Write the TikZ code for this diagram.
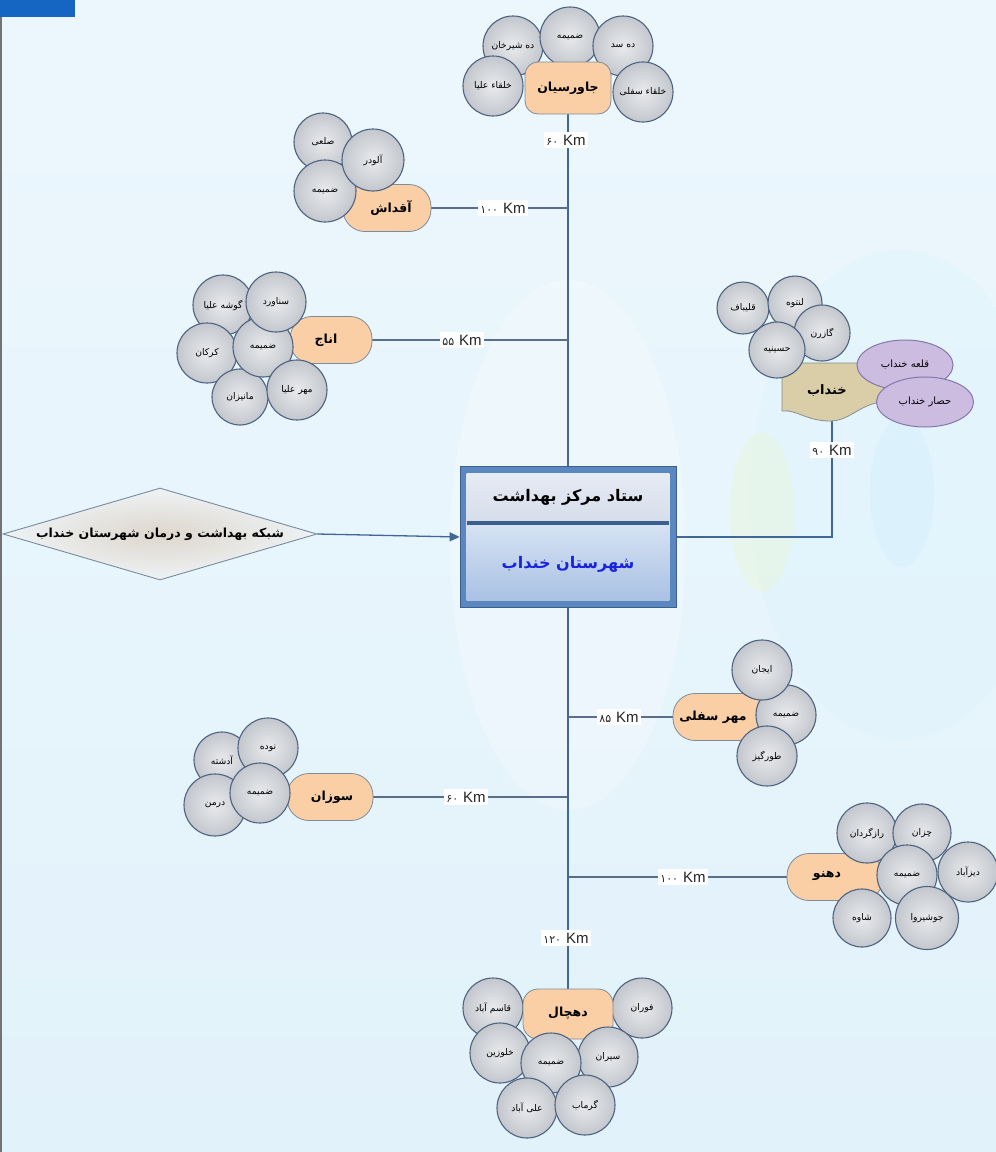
\documentclass[tikz,border=0pt]{standalone}
\usepackage{fontspec}
\newfontfamily\arabicfont[Script=Arabic]{DejaVu Sans}
\newfontfamily\kmfont{Liberation Sans}
\TeXXeTstate=1
\usetikzlibrary{shapes.geometric,arrows.meta}
\newcommand{\pers}[1]{{\arabicfont\beginR #1\endR}}
\newcommand{\kmlab}[1]{{\arabicfont\fontsize{11}{12}\selectfont #1}\,\,Km}
\pgfdeclarelayer{back}
\pgfdeclarelayer{lines}
\pgfsetlayers{back,lines,main}
\definecolor{bgA}{HTML}{ECF7FD}
\definecolor{bgB}{HTML}{E2F2FA}
\definecolor{peach}{HTML}{FBCFA6}
\definecolor{boxedge}{HTML}{7D8B9C}
\definecolor{circEdge}{HTML}{4D6382}
\definecolor{circIn}{HTML}{E9EAEC}
\definecolor{circOut}{HTML}{C3C7CD}
\definecolor{trunkc}{HTML}{41669A}
\definecolor{branchc}{HTML}{586E8C}
\definecolor{frameblue}{HTML}{5A87C0}
\definecolor{framedark}{HTML}{3C5F8E}
\definecolor{tanfill}{HTML}{D9CEA8}
\definecolor{lilac}{HTML}{CBBCE0}
\definecolor{lilacEdge}{HTML}{8676AE}
\definecolor{cornerblue}{HTML}{1466C2}
\definecolor{titleblue}{HTML}{1A22E0}
\definecolor{ctopA}{HTML}{E6EBF4}
\definecolor{ctopB}{HTML}{CCD6E6}
\definecolor{cbotA}{HTML}{D6E3F4}
\definecolor{cbotB}{HTML}{A9C1E3}
\definecolor{diaIn}{HTML}{DDD6CC}
\definecolor{diaOut}{HTML}{EEF3F6}
\definecolor{diaEdge}{HTML}{7A8BA0}
\tikzset{
  vill/.style={circle, minimum size=60pt, inner sep=0pt, draw=circEdge, line width=1.1pt,
    inner color=circIn, outer color=circOut, font=\fontsize{9.2}{10}\selectfont, text=black},
  capbox/.style={rounded corners=22pt, draw=boxedge, fill=peach, line width=0.8pt,
    minimum height=47pt, inner sep=2pt, font=\fontsize{12.5}{14}\selectfont\bfseries},
  boxtext/.style={font=\fontsize{12.5}{14}\selectfont\bfseries, inner sep=1pt},
  km/.style={fill=white, inner sep=2.5pt, font=\kmfont\fontsize{15}{17}\selectfont, text=black!85},
  trunk/.style={draw=trunkc, line width=2.6pt},
  branch/.style={draw=branchc, line width=1.1pt},
  rightline/.style={draw=trunkc, line width=1.8pt},
  lil/.style={ellipse, draw=lilacEdge, fill=lilac, line width=1pt, inner sep=0pt,
    font=\fontsize{10}{12}\selectfont}
}
\begin{document}
\begin{tikzpicture}[x=1pt,y=-1pt]
\useasboundingbox (0,0) rectangle (996,1152);
\begin{pgfonlayer}{back}
  \fill[top color=bgA, bottom color=bgB] (0,0) rectangle (996,1152);
  \fill[white, opacity=0.25] (568,545) ellipse [x radius=118pt, y radius=265pt];
  \fill[cyan!15!white, opacity=0.3] (900,495) ellipse [x radius=150pt, y radius=245pt];
  \fill[yellow!25!green!12!white, opacity=0.6] (762,512) ellipse [x radius=32pt, y radius=80pt];
  \fill[cyan!18!white, opacity=0.4] (902,492) ellipse [x radius=32pt, y radius=75pt];
  \fill[cornerblue] (0,0) rectangle (75,17);
  \draw[black!55, line width=2pt] (1,17) -- (1,1152);
\end{pgfonlayer}

% ---------- centre box ----------
\node[rectangle, minimum width=216pt, minimum height=141pt, fill=frameblue, draw=framedark,
  line width=0.8pt] (center) at (568,537) {};
\fill[top color=ctopA, bottom color=ctopB]
  ([shift={(7pt,-7pt)}]center.north west) rectangle ([shift={(-7pt,57pt)}]center.south east);
\fill[top color=cbotA, bottom color=cbotB]
  ([shift={(7pt,-57pt)}]center.north west) rectangle ([shift={(-7pt,7pt)}]center.south east);
\draw[framedark, line width=3.5pt] ([shift={(7pt,-57pt)}]center.north west) -- ([shift={(-7pt,-57pt)}]center.north east);
\node[font=\fontsize{16}{18}\selectfont\bfseries, text=black] (ctop) at (568,497) {\pers{ستاد مرکز بهداشت}};
\node[font=\fontsize{16}{18}\selectfont\bfseries, text=titleblue] (cbot) at (568,564) {\pers{شهرستان خنداب}};

% ---------- diamond ----------
\node[diamond, minimum width=314pt, minimum height=92pt, inner sep=0pt, draw=diaEdge,
  line width=0.9pt, inner color=diaIn, outer color=diaOut] (dia) at (160,534) {};
\node[font=\fontsize{12.5}{15}\selectfont\bfseries] (diat) at (dia) {\pers{شبکه بهداشت و درمان شهرستان خنداب}};
\draw[trunkc, line width=1.3pt, -{Triangle[length=10pt,width=9pt]}] (dia.east) -- (center.west);

% ---------- Javarsian (top) ----------
\node[vill] (j1) at (513,46) {\pers{ده شیرخان}};
\node[vill] (j2) at (570,37) {\pers{ضمیمه}};
\node[vill] (j3) at (623,46) {\pers{ده سد}};
\node[vill] (j4) at (493,86) {\pers{خلقاء علیا}};
\node[vill] (j5) at (643,92) {\pers{خلقاء سفلی}};
\node[capbox, rounded corners=13pt, minimum width=86pt, minimum height=52pt] (jav) at (568,88) {\pers{جاورسیان}};
\node[km] (kj) at (566,140) {\kmlab{۶۰}};
\begin{pgfonlayer}{lines}
  \draw[trunk] (jav.south) -- (center.north);
\end{pgfonlayer}

% ---------- Aghdash ----------
\node[capbox, minimum width=88pt] (agh) at (387,208) {};
\node[vill, minimum size=58pt] (a1) at (323,142) {\pers{صلعی}};
\node[vill, minimum size=62pt] (a3) at (325,191) {\pers{ضمیمه}};
\node[vill, minimum size=62pt] (a2) at (373,160) {\pers{آلودر}};
\node[boxtext] (aght) at (391,208) {\pers{آقداش}};
\coordinate (ta) at (568,208);
\node[km] (ka) at (503,208) {\kmlab{۱۰۰}};
\begin{pgfonlayer}{lines}
  \draw[branch] (ta) -- (agh.east);
\end{pgfonlayer}

% ---------- Anaj ----------
\node[capbox, minimum width=82pt] (anaj) at (331,340) {};
\node[vill] (n1) at (223,305) {\pers{گوشه علیا}};
\node[vill] (n2) at (207,353) {\pers{کرکان}};
\node[vill, minimum size=56pt] (n3) at (240,397) {\pers{مانیزان}};
\node[vill] (n4) at (263,347) {\pers{ضمیمه}};
\node[vill] (n5) at (276,302) {\pers{سناورد}};
\node[vill] (n6) at (297,390) {\pers{مهر علیا}};
\node[boxtext] (anajt) at (326,340) {\pers{اناج}};
\coordinate (tn) at (568,340);
\node[km] (kn) at (462,340) {\kmlab{۵۵}};
\begin{pgfonlayer}{lines}
  \draw[branch] (tn) -- (anaj.east);
\end{pgfonlayer}

% ---------- Khondab ----------
\fill[tanfill, draw=black!45, line width=0.8pt] (782,363) -- (890,363) -- (890,402)
  .. controls (862,400) and (852,421) .. (830,421)
  .. controls (806,421) and (796,409) .. (782,411) -- cycle;
\node[vill, minimum size=52pt] (k1) at (743,308) {\pers{قلیباف}};
\node[vill, minimum size=54pt] (k2) at (795,303) {\pers{لنتوه}};
\node[vill, minimum size=56pt] (k3) at (822,333) {\pers{گازرن}};
\node[vill, minimum size=56pt] (k4) at (777,350) {\pers{حسینیه}};
\node[lil, minimum width=96pt, minimum height=50pt] (q1) at (905,365) {\pers{قلعه خنداب}};
\node[lil, minimum width=97pt, minimum height=50pt] (q2) at (925,402) {\pers{حصار خنداب}};
\node[font=\fontsize{13}{15}\selectfont\bfseries] (khon) at (827,391) {\pers{خنداب}};
\coordinate (khonb) at (832,420);
\node[km] (kk) at (832,450) {\kmlab{۹۰}};
\begin{pgfonlayer}{lines}
  \draw[rightline] (center.east) -| (khonb);
\end{pgfonlayer}

% ---------- Mehr Sofla ----------
\node[capbox, minimum width=96pt] (mehr) at (721,717) {};
\node[vill] (m2) at (786,715) {\pers{ضمیمه}};
\node[vill] (m1) at (762,670) {\pers{ایجان}};
\node[vill] (m3) at (767,756) {\pers{طورگیز}};
\node[boxtext] (mehrt) at (713,717) {\pers{مهر سفلی}};
\coordinate (tm) at (568,717);
\node[km] (km) at (619,717) {\kmlab{۸۵}};
\begin{pgfonlayer}{lines}
  \draw[branch] (tm) -- (mehr.west);
\end{pgfonlayer}

% ---------- Suzan ----------
\node[capbox, minimum width=86pt] (suz) at (330,797) {};
\node[vill, minimum size=56pt] (s1) at (222,760) {\pers{آدشته}};
\node[vill] (s2) at (268,748) {\pers{نوده}};
\node[vill, minimum size=62pt] (s3) at (215,805) {\pers{درمن}};
\node[vill] (s4) at (260,793) {\pers{ضمیمه}};
\node[boxtext] (suzt) at (332,797) {\pers{سوزان}};
\coordinate (ts) at (568,797);
\node[km] (ks) at (466,797) {\kmlab{۶۰}};
\begin{pgfonlayer}{lines}
  \draw[branch] (ts) -- (suz.east);
\end{pgfonlayer}

% ---------- Dehno ----------
\node[capbox, minimum width=96pt] (dehno) at (835,877) {};
\node[vill] (d1) at (867,833) {\pers{رازگردان}};
\node[vill, minimum size=58pt] (d2) at (922,833) {\pers{چزان}};
\node[vill] (d3) at (968,872) {\pers{دیزآباد}};
\node[vill] (d4) at (907,875) {\pers{ضمیمه}};
\node[vill, minimum size=58pt] (d5) at (862,918) {\pers{شاوه}};
\node[vill, minimum size=63pt] (d6) at (927,918) {\pers{جوشیروا}};
\node[boxtext] (dehnot) at (827,876) {\pers{دهنو}};
\coordinate (td) at (568,877);
\node[km] (kd) at (683,877) {\kmlab{۱۰۰}};
\begin{pgfonlayer}{lines}
  \draw[branch] (td) -- (dehno.west);
\end{pgfonlayer}

% ---------- Dehchal (bottom) ----------
\node[vill] (h1) at (493,1008) {\pers{قاسم آباد}};
\node[vill] (h2) at (642,1008) {\pers{فوران}};
\node[capbox, rounded corners=15pt, minimum width=90pt, minimum height=50pt] (dehc) at (568,1014) {\raisebox{4pt}{\pers{دهچال}}};
\node[vill] (h3) at (500,1053) {\pers{خلوزین}};
\node[vill] (h5) at (608,1057) {\pers{سیران}};
\node[vill] (h4) at (551,1063) {\pers{ضمیمه}};
\node[vill] (h6) at (527,1108) {\pers{علی آباد}};
\node[vill] (h7) at (585,1105) {\pers{گرماب}};
\node[km] (kh) at (566,938) {\kmlab{۱۲۰}};
\begin{pgfonlayer}{lines}
  \draw[trunk] (center.south) -- (dehc.north);
\end{pgfonlayer}
\end{tikzpicture}
\end{document}
